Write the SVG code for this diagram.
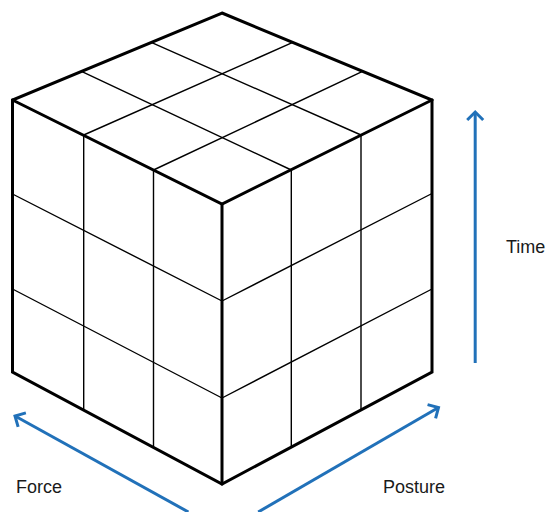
<svg xmlns="http://www.w3.org/2000/svg" width="547" height="512" viewBox="0 0 547 512">
  <style>
    .thin { stroke: #000; stroke-width: 1.4; fill: none; stroke-linecap: round; }
    .thick { stroke: #000; stroke-width: 3; fill: none; stroke-linejoin: miter; stroke-linecap: round; }
    .axis { stroke: #2171B9; stroke-width: 3; fill: none; }
    .label { font-family: "Liberation Sans", Arial, sans-serif; font-size: 18px; fill: #1a1a1a; }
  </style>
  <defs>
    <marker id="arrow" markerUnits="userSpaceOnUse" markerWidth="20" markerHeight="20" refX="10" refY="10" orient="auto" viewBox="0 0 20 20">
      <path d="M2,2 L10,10 L2,18" fill="none" stroke="#2171B9" stroke-width="3" stroke-linejoin="miter"/>
    </marker>
  </defs>
  <rect width="547" height="512" fill="#fff"/>

  <g id="cube">
    <g id="top-face">
      <polygon points="222,13 432,100 222,204 12.5,100" fill="#fff"/>
      <line class="thin" x1="151.8" y1="42.7" x2="361" y2="135"/>
      <line class="thin" x1="82" y1="71.7" x2="291.3" y2="170"/>
      <line class="thin" x1="292.2" y1="42.7" x2="83.7" y2="135"/>
      <line class="thin" x1="362" y1="71.7" x2="153.5" y2="170"/>
    </g>
    <g id="left-face">
      <polygon points="12.5,100 222,204 222,484 12.5,372" fill="#fff"/>
      <line class="thin" x1="12.5" y1="194" x2="222" y2="301"/>
      <line class="thin" x1="12.5" y1="289" x2="222" y2="398"/>
      <line class="thin" x1="83.7" y1="135" x2="83.7" y2="410"/>
      <line class="thin" x1="153.5" y1="170" x2="153.5" y2="447.5"/>
    </g>
    <g id="right-face">
      <polygon points="222,204 432,100 432,372 222,484" fill="#fff"/>
      <line class="thin" x1="432" y1="193.5" x2="222" y2="301"/>
      <line class="thin" x1="432" y1="289" x2="222" y2="398"/>
      <line class="thin" x1="291.3" y1="170" x2="291.3" y2="447"/>
      <line class="thin" x1="361" y1="135" x2="361" y2="410"/>
    </g>
    <g id="cube-edges">
      <polygon class="thick" points="222,13 432,100 432,372 222,484 12.5,372 12.5,100"/>
      <polyline class="thick" points="12.5,100 222,204 432,100"/>
      <line class="thick" x1="222" y1="204" x2="222" y2="484"/>
    </g>
  </g>

  <g id="connectors">
    <line id="time-axis" class="axis" x1="475.2" y1="363" x2="475.2" y2="112" marker-end="url(#arrow)"/>
    <line id="force-axis" class="axis" x1="188.4" y1="512" x2="15" y2="416" marker-end="url(#arrow)"/>
    <line id="posture-axis" class="axis" x1="258.2" y1="512" x2="438.5" y2="407.5" marker-end="url(#arrow)"/>
  </g>

  <g id="label-time"><text class="label" x="506" y="253">Time</text></g>
  <g id="label-force"><text class="label" x="16" y="493">Force</text></g>
  <g id="label-posture"><text class="label" x="383" y="493">Posture</text></g>
</svg>
